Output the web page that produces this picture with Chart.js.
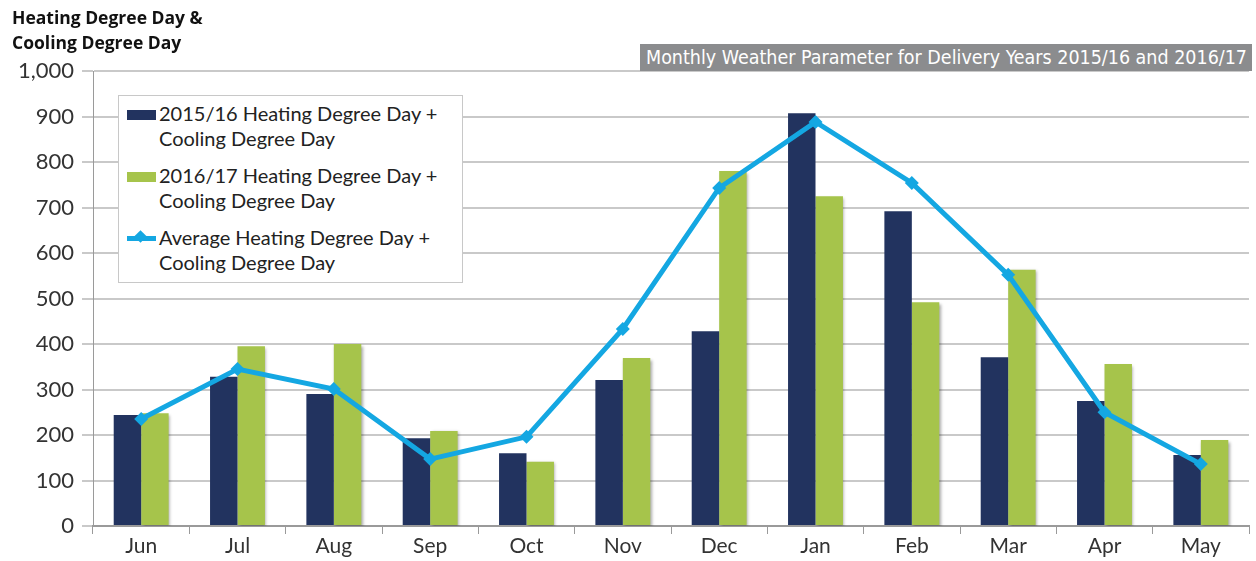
<!DOCTYPE html>
<html>
<head>
<meta charset="utf-8">
<script src="https://cdn.jsdelivr.net/npm/chart.js@4"></script>
<style>
  body { margin: 0; background: #fff; }
  #wrap { position: relative; width: 1256px; height: 561px; overflow: hidden; }
  #title { position: absolute; left: 12px; top: 5px; font-family: "Open Sans", sans-serif; font-weight: 700; font-size: 17.5px; line-height: 25px; color: #111; }
  #banner { position: absolute; left: 640px; top: 44px; width: 612px; height: 27px; background: #8b8c8e; overflow: hidden; }
  #banner span { position: absolute; left: 6px; top: 2px; white-space: nowrap; color: #fff; font-family: "Liberation Sans Narrow", "DejaVu Sans Condensed", "Roboto", sans-serif; font-stretch: condensed; font-size: 19px; transform-origin: left top; }
  #legend { position: absolute; left: 118px; top: 95px; width: 345px; height: 188px; background: #fff; border: 1px solid #c8c8c8; box-sizing: border-box; font-family: "Lato", sans-serif; font-size: 20px; color: #222; }
  .item { position: absolute; left: 8px; line-height: 25px; }
  .item .sw { position: absolute; left: 0; top: 9px; width: 29px; height: 10px; }
  .item .tx { position: absolute; left: 32px; top: 0; white-space: nowrap; }
</style>
</head>
<body>
<div id="wrap">
  <canvas id="myChart" width="1256" height="561"></canvas>
  <div id="title">Heating Degree Day &amp;<br>Cooling Degree Day</div>
  <div id="banner"><span id="bannerText">Monthly Weather Parameter for Delivery Years 2015/16 and 2016/17</span></div>
  <div id="legend"></div>
</div>
<script>
let months = ["Jun", "Jul", "Aug", "Sep", "Oct", "Nov", "Dec", "Jan", "Feb", "Mar", "Apr", "May"];
let hdd1516 = [244, 328, 290, 193, 160, 321, 428, 907, 692, 371, 275, 156];
let hdd1617 = [248, 395, 400, 209, 141, 369, 780, 725, 492, 563, 356, 189];
let hddAvg = [235, 345, 301, 147, 196, 433, 743, 888, 754, 552, 250, 136];
let yTicks = [0, 100, 200, 300, 400, 500, 600, 700, 800, 900, 1000];
let seriesNames = ["2015/16 Heating Degree Day +", "2016/17 Heating Degree Day +", "Average Heating Degree Day +"];

let navy = "#22335f";
let green = "#a6c44b";
let blue = "#14a7e2";

// stretch banner text to fill its box
let bt = document.getElementById("bannerText");
let w = bt.getBoundingClientRect().width;
bt.style.transform = "scaleX(" + (601 / w) + ")";

// legend
let legend = document.getElementById("legend");
let colors = [navy, green, blue];
for (let i = 0; i < 3; i++) {
  let d = document.createElement("div");
  d.className = "item";
  d.style.top = (5 + i * 62) + "px";
  let sw;
  if (i < 2) {
    sw = '<div class="sw" style="background:' + colors[i] + '"></div>';
  } else {
    sw = '<div class="sw" style="top:11px;height:5px;background:' + blue + '"></div>' +
      '<div style="position:absolute;left:9px;top:7px;width:9px;height:9px;background:' + blue + ';transform:rotate(45deg)"></div>';
  }
  d.innerHTML = sw + '<div class="tx">' + seriesNames[i] + '<br>Cooling Degree Day</div>';
  legend.appendChild(d);
}

const shadowPlugin = {
  id: "lineShadow",
  beforeDatasetDraw(chart, args) {
    if (args.index === 2) {
      chart.ctx.save();
      chart.ctx.shadowColor = "rgba(0,0,0,0.35)";
      chart.ctx.shadowBlur = 3;
      chart.ctx.shadowOffsetX = 1.5;
      chart.ctx.shadowOffsetY = 1.5;
    }
  },
  afterDatasetDraw(chart, args) {
    if (args.index === 2) chart.ctx.restore();
  }
};

const ctx = document.getElementById("myChart");
new Chart(ctx, {
  type: "bar",
  data: {
    labels: months,
    datasets: [
      {
        type: "line",
        label: seriesNames[2],
        data: hddAvg,
        borderColor: blue,
        backgroundColor: blue,
        borderWidth: 5,
        pointStyle: "rectRot",
        pointRadius: 7,
        pointBorderWidth: 0,
        tension: 0,
        order: 0,
      },
      {
        label: seriesNames[0],
        data: hdd1516,
        backgroundColor: navy,
        categoryPercentage: 0.57,
        barPercentage: 1.0,
        order: 1,
      },
      {
        label: seriesNames[1],
        data: hdd1617,
        backgroundColor: green,
        categoryPercentage: 0.57,
        barPercentage: 1.0,
        order: 1,
      },
    ],
  },
  plugins: [shadowPlugin],
  options: {
    responsive: false,
    animation: false,
    layout: { padding: { top: 71, right: 3, left: 0, bottom: 0 } },
    plugins: {
      legend: { display: false },
      tooltip: { enabled: false },
    },
    scales: {
      x: {
        grid: { offset: true, drawOnChartArea: false, drawTicks: true, tickLength: 8, color: "#9a9a9a" },
        border: { display: true, color: "#9a9a9a", width: 2 },
        ticks: { color: "#333", font: { family: "Lato", size: 21 }, padding: 0 },
        afterFit: (scale) => { scale.height = 35; },
      },
      y: {
        min: 0,
        max: 1000,
        afterBuildTicks: (scale) => { scale.ticks = yTicks.map((v) => ({ value: v })); },
        grid: { color: "#c9c9c9", lineWidth: 2, tickLength: 11 },
        border: { display: true, color: "#9a9a9a", width: 1 },
        ticks: {
          color: "#333",
          font: { family: "Lato", size: 22 },
          padding: 8,
          callback: (v) => v.toLocaleString("en-US"),
        },
        afterFit: (scale) => { scale.width = 93; },
      },
    },
  },
});
</script>
</body>
</html>
